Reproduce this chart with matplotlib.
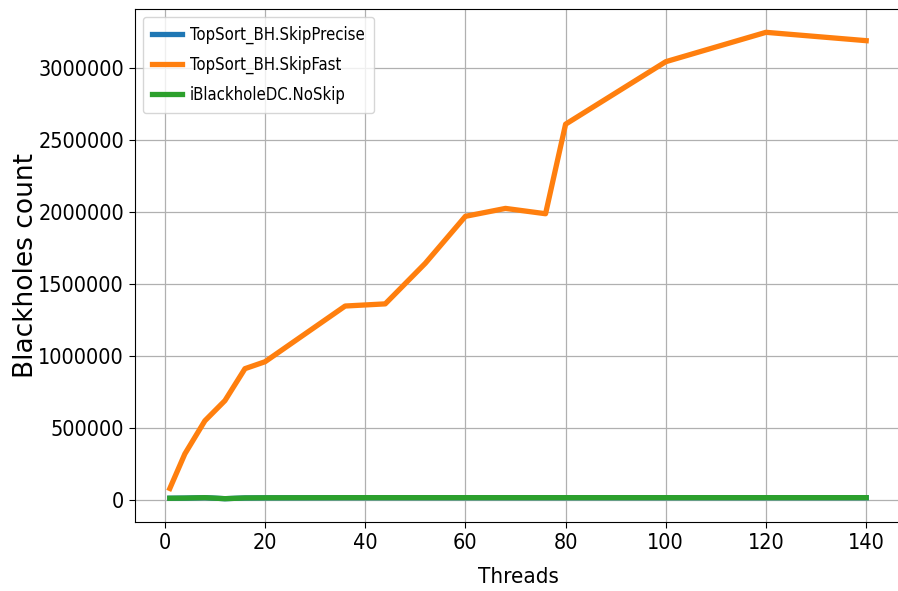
import matplotlib
matplotlib.use("Agg")
import matplotlib.pyplot as plt

threads = [1, 4, 8, 12, 16, 20, 36, 44, 52, 60, 68, 76, 80, 100, 120, 140]

skip_fast = [80000, 320000, 550000, 690000, 912000, 960000, 1347000, 1362000,
             1644000, 1970000, 2025000, 1988000, 2610000, 3044000, 3248000, 3190000]
skip_precise = [12000, 13000, 16000, 9000, 14000, 15000, 16000, 16000,
                16000, 16000, 16000, 16000, 16000, 16000, 16000, 16000]
no_skip = [12000, 13000, 16000, 9000, 14000, 15000, 16000, 16000,
           16000, 16000, 16000, 16000, 16000, 16000, 16000, 16000]

# the source image is squeezed sideways, so horizontal text uses a condensed face
narrow = dict(family="DejaVu Sans", stretch="condensed")

fig = plt.figure(figsize=(8.98, 5.91), dpi=100)
ax = fig.add_axes([135 / 898, 69 / 591, 766 / 898, 513 / 591])

ax.plot(threads, skip_precise, color="#1f77b4", lw=3.8, label="TopSort_BH.SkipPrecise")
ax.plot(threads, skip_fast, color="#ff7f0e", lw=3.8, label="TopSort_BH.SkipFast")
ax.plot(threads, no_skip, color="#2ca02c", lw=3.8, label="iBlackholeDC.NoSkip")

ax.grid(True, color="#b0b0b0", lw=0.9)
ax.set_xticks([0, 20, 40, 60, 80, 100, 120, 140])
ax.set_yticks([0, 500000, 1000000, 1500000, 2000000, 2500000, 3000000])
ax.ticklabel_format(style="plain", axis="y")
ax.tick_params(length=4.5)
for lab in ax.get_xticklabels() + ax.get_yticklabels():
    lab.set_fontfamily(narrow["family"])
    lab.set_fontstretch(narrow["stretch"])
    lab.set_fontsize(15.5)

ax.set_xlabel("Threads", fontsize=16, fontfamily="DejaVu Sans", fontstretch="condensed")
ax.xaxis.set_label_coords(0.5, -0.087)
ax.set_ylabel("Blackholes count", fontsize=19)
ax.yaxis.set_label_coords(-0.125, 0.5)

ax.legend(loc="upper left", prop={"family": "DejaVu Sans", "stretch": "condensed", "size": 12},
          handlelength=1.8, handletextpad=0.5, labelspacing=0.72, borderpad=0.55,
          borderaxespad=0.45)

fig.savefig("out.png", dpi=100)
